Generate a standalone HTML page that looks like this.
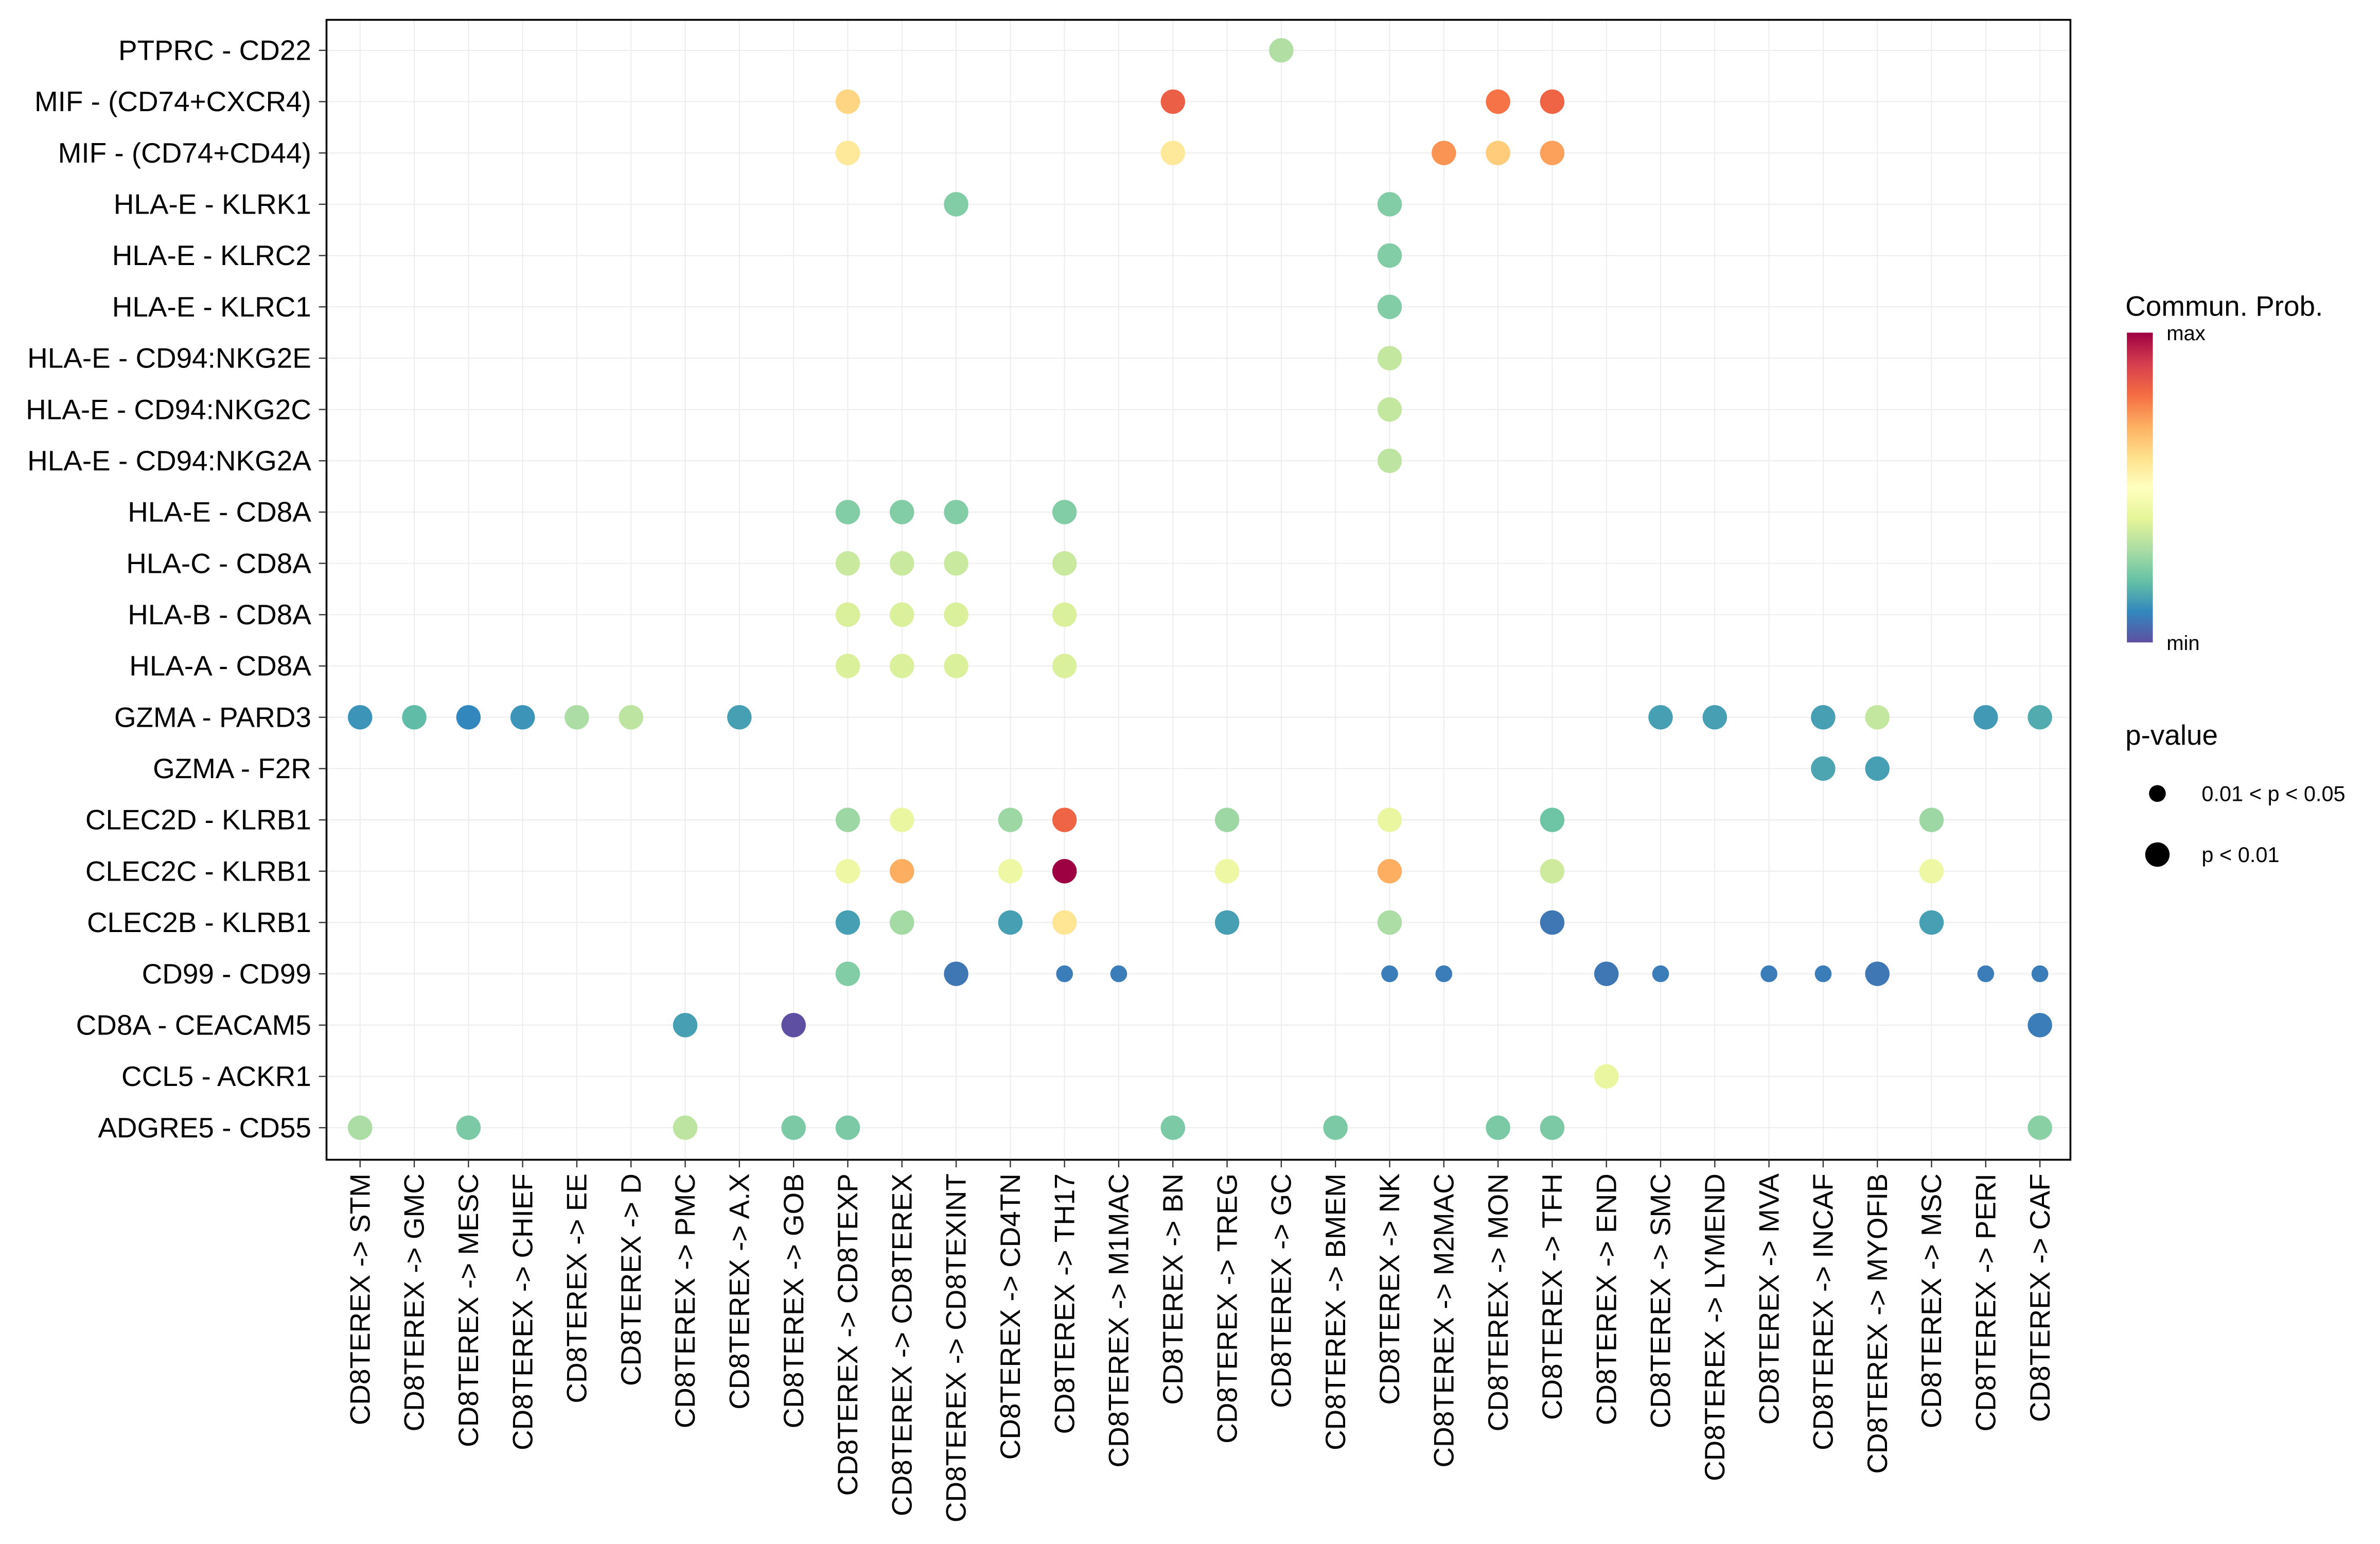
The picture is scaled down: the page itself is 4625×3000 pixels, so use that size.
<!DOCTYPE html>
<html><head><meta charset="utf-8"><style>
html,body{margin:0;padding:0;background:#fff}
svg{display:block}
text{font-family:"Liberation Sans",sans-serif;fill:#000}
</style></head><body>
<svg id="chart" width="4625" height="3000" viewBox="0 0 1559.9 1011.8" preserveAspectRatio="none" xmlns="http://www.w3.org/2000/svg">
<defs><linearGradient id="spec" x1="0" y1="1" x2="0" y2="0">
<stop offset="0" stop-color="#5e4fa2"/><stop offset="0.1" stop-color="#3288bd"/><stop offset="0.2" stop-color="#66c2a5"/><stop offset="0.3" stop-color="#abdda4"/><stop offset="0.4" stop-color="#e6f598"/><stop offset="0.5" stop-color="#ffffbf"/><stop offset="0.6" stop-color="#fee08b"/><stop offset="0.7" stop-color="#fdae61"/><stop offset="0.8" stop-color="#f46d43"/><stop offset="0.9" stop-color="#d53e4f"/><stop offset="1" stop-color="#9e0142"/>
</linearGradient></defs>
<g id="grid"></g>
<g id="dots"></g>
<rect x="214" y="13" width="1143" height="747" fill="none" stroke="#000" stroke-width="1.2"/>
<g id="ylab"></g>
<g id="xlab"></g>
<g>
<text x="1393" y="207" font-size="18.5">Commun. Prob.</text>
<rect x="1394" y="218" width="17" height="203" fill="url(#spec)"/>
<text x="1420" y="223" font-size="13.5">max</text>
<text x="1420" y="426" font-size="13.5">min</text>
</g>
<g>
<text x="1393" y="488" font-size="18.5">p-value</text>
<circle cx="1414" cy="520" r="5.5" fill="#000"/>
<text x="1443" y="525" font-size="14">0.01 &lt; p &lt; 0.05</text>
<circle cx="1414" cy="560" r="8" fill="#000"/>
<text x="1443" y="565" font-size="14">p &lt; 0.01</text>
</g>
</svg>
<script>
const targets = ["STM","GMC","MESC","CHIEF","EE","D","PMC","A.X","GOB","CD8TEXP","CD8TEREX","CD8TEXINT","CD4TN","TH17","M1MAC","BN","TREG","GC","BMEM","NK","M2MAC","MON","TFH","END","SMC","LYMEND","MVA","INCAF","MYOFIB","MSC","PERI","CAF"];
const pairs = ["PTPRC - CD22","MIF - (CD74+CXCR4)","MIF - (CD74+CD44)","HLA-E - KLRK1","HLA-E - KLRC2","HLA-E - KLRC1","HLA-E - CD94:NKG2E","HLA-E - CD94:NKG2C","HLA-E - CD94:NKG2A","HLA-E - CD8A","HLA-C - CD8A","HLA-B - CD8A","HLA-A - CD8A","GZMA - PARD3","GZMA - F2R","CLEC2D - KLRB1","CLEC2C - KLRB1","CLEC2B - KLRB1","CD99 - CD99","CD8A - CEACAM5","CCL5 - ACKR1","ADGRE5 - CD55"];
// each point: [pair index, target index, prob (0..1), significant p<0.01 (1) or not (0)]
const pointRow = [0,1,1,1,1,2,2,2,2,2,3,3,4,5,6,7,8,9,9,9,9,10,10,10,10,11,11,11,11,12,12,12,12,
13,13,13,13,13,13,13,13,13,13,13,13,13,14,14,
15,15,15,15,15,15,15,15,16,16,16,16,16,16,16,16,17,17,17,17,17,17,17,17,
18,18,18,18,18,18,18,18,18,18,18,18,18,19,19,19,20,21,21,21,21,21,21,21,21,21,21];
const pointCol = [17,9,15,21,22,9,15,20,21,22,11,19,19,19,19,19,19,9,10,11,13,9,10,11,13,9,10,11,13,9,10,11,13,
0,1,2,3,4,5,7,24,25,27,28,30,31,27,28,
9,10,12,13,16,19,22,29,9,10,12,13,16,19,22,29,9,10,12,13,16,19,22,29,
9,11,13,14,19,20,23,24,26,27,28,30,31,6,8,31,23,0,2,6,8,9,15,18,21,22,31];
const pointProb = [0.31,0.62,0.83,0.79,0.82,0.57,0.57,0.74,0.64,0.72,0.24,0.24,0.24,0.24,0.34,0.34,0.33,0.24,0.24,0.24,0.24,0.35,0.35,0.35,0.35,0.38,0.38,0.38,0.38,0.38,0.38,0.38,0.38,
0.12,0.19,0.1,0.12,0.3,0.33,0.14,0.14,0.14,0.14,0.34,0.13,0.16,0.15,0.14,
0.28,0.42,0.28,0.82,0.28,0.42,0.21,0.28,0.43,0.7,0.43,1.0,0.43,0.7,0.36,0.43,0.14,0.29,0.14,0.58,0.14,0.3,0.07,0.14,
0.24,0.07,0.08,0.08,0.08,0.08,0.07,0.08,0.08,0.08,0.07,0.08,0.08,0.14,0.0,0.08,0.42,0.3,0.23,0.33,0.23,0.23,0.23,0.23,0.23,0.23,0.25];
const pointSig = [1,1,1,1,1,1,1,1,1,1,1,1,1,1,1,1,1,1,1,1,1,1,1,1,1,1,1,1,1,1,1,1,1,
1,1,1,1,1,1,1,1,1,1,1,1,1,1,1,
1,1,1,1,1,1,1,1,1,1,1,1,1,1,1,1,1,1,1,1,1,1,1,1,
1,1,0,0,0,0,1,0,0,0,1,0,0,1,1,1,1,1,1,1,1,1,1,1,1,1,1];

const NS="http://www.w3.org/2000/svg";
const X0=236, XS=(1337-236)/31, Y0=33, YS=(739-33)/21;
function xPos(i){return X0+i*XS;}
function yPos(i){return Y0+i*YS;}
const stops=["#5e4fa2","#3288bd","#66c2a5","#abdda4","#e6f598","#ffffbf","#fee08b","#fdae61","#f46d43","#d53e4f","#9e0142"];
function hex(h){return [1,3,5].map(k=>parseInt(h.substr(k,2),16));}
function color(v){v=Math.max(0,Math.min(1,v))*10;const i=Math.min(9,Math.floor(v)),t=v-i;const a=hex(stops[i]),b=hex(stops[i+1]);return "rgb("+a.map((c,k)=>Math.round(c+(b[k]-c)*t)).join(",")+")";}
function mk(tag,attrs,parent){const e=document.createElementNS(NS,tag);for(const k in attrs)e.setAttribute(k,attrs[k]);parent.appendChild(e);return e;}
const grid=document.getElementById('grid'),dots=document.getElementById('dots'),yl=document.getElementById('ylab'),xl=document.getElementById('xlab');
pairs.forEach((p,i)=>{
  const y=yPos(i);
  const g=mk('line',{x1:214,x2:1357,y1:y,y2:y,stroke:"#ebebeb","stroke-width":0.6},grid);
  
  
  const t=mk('line',{x1:209,x2:214,y1:y,y2:y,stroke:"#333","stroke-width":0.8},yl);
  
  
  const tx=mk('text',{x:204,y:y+6.3,"font-size":18.5,"text-anchor":"end"},yl);
  tx.textContent=p;
  
  
});
targets.forEach((c,i)=>{
  const x=xPos(i);
  const g=mk('line',{x1:x,x2:x,y1:13,y2:760,stroke:"#ebebeb","stroke-width":0.6},grid);
  
  
  const t=mk('line',{x1:x,x2:x,y1:760,y2:765,stroke:"#333","stroke-width":0.8},xl);
  
  
  const tx=mk('text',{x:0,y:0,"font-size":18.5,"text-anchor":"end",transform:"translate("+(x+6.3)+",769) rotate(-90)"},xl);
  tx.textContent="CD8TEREX -> "+c;
  
  
});
for(let k=0;k<pointRow.length;k++){
  const c=mk('circle',{cx:xPos(pointCol[k]),cy:yPos(pointRow[k]),r:pointSig[k]?8:5.5,fill:color(pointProb[k])},dots);
  
  
}
</script>
</body></html>
